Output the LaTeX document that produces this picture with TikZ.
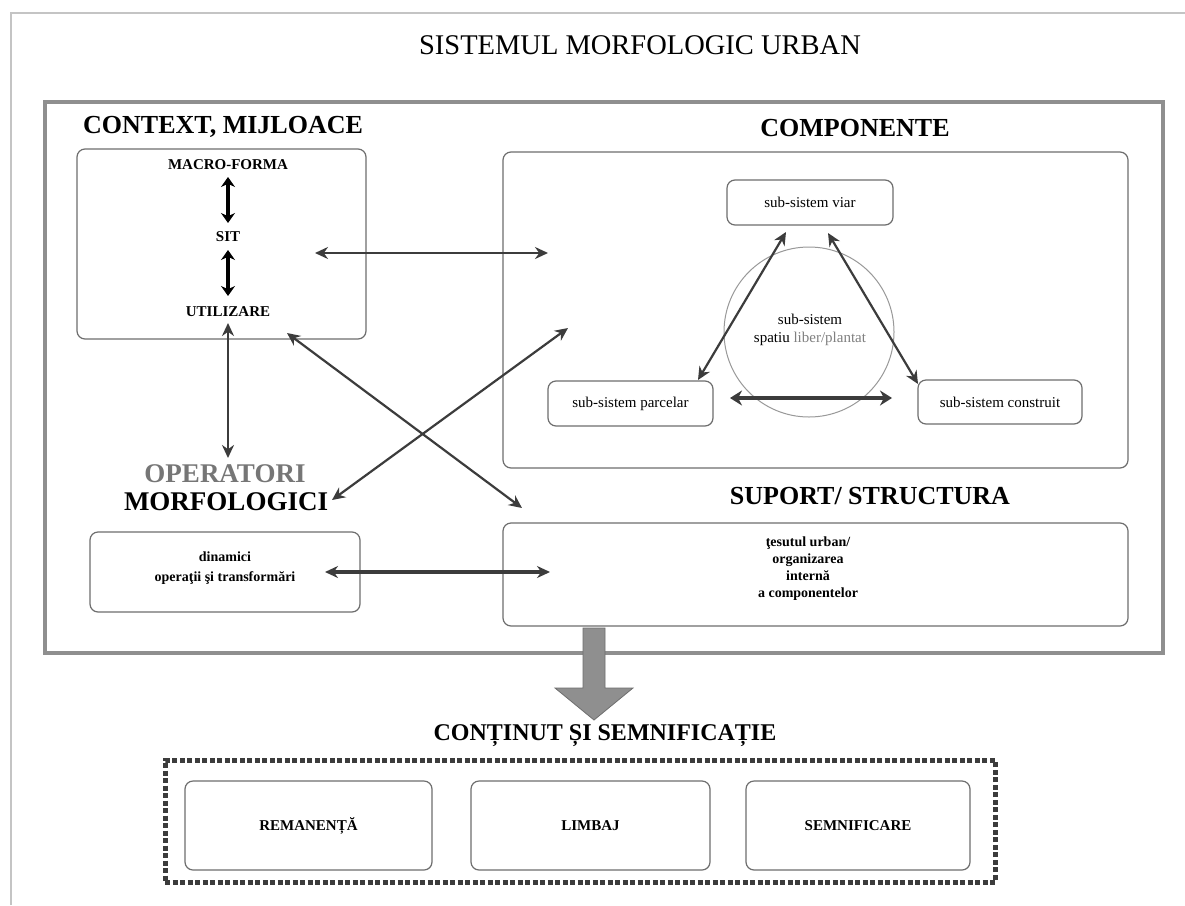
\documentclass[tikz,border=0pt]{standalone}
\usepackage{fontspec}
\setmainfont{Liberation Serif}
\usetikzlibrary{arrows.meta}
\definecolor{boxgray}{HTML}{6E6E6E}
\definecolor{arrgray}{HTML}{3C3C3C}
\definecolor{framegray}{HTML}{8F8F8F}
\definecolor{thingray}{HTML}{C4C4C4}
\definecolor{optgray}{HTML}{767676}
\tikzset{
  box/.style={draw=boxgray, line width=1.2pt, rounded corners=8pt, inner sep=0pt},
  arr/.style={draw=arrgray, line width=2.2pt, {Stealth[length=13pt,width=12pt]}-{Stealth[length=13pt,width=12pt]}},
  shortarr/.style={draw=black, line width=3.5pt, {Stealth[length=10pt,width=14pt]}-{Stealth[length=10pt,width=14pt]}},
  fatarr/.style={draw=arrgray, line width=4.5pt, {Stealth[length=12pt,width=15pt]}-{Stealth[length=12pt,width=15pt]}},
  heading/.style={font=\fontsize{26}{30}\selectfont\bfseries, inner sep=0pt},
  small/.style={font=\fontsize{15}{17}\selectfont\bfseries, inner sep=0pt},
  sub/.style={font=\fontsize{15}{18}\selectfont, inner sep=0pt}
}
\begin{document}
\begin{tikzpicture}[x=1pt,y=-1pt]
\useasboundingbox[fill=white] (0,0) rectangle (1185,905);
% outer thin frame
\draw[thingray, line width=1.5pt] (11,905) -- (11,13) -- (1185,13);
% title
\node[font=\fontsize{28.5}{32}\selectfont, inner sep=0pt] (title) at (640,45) {SISTEMUL MORFOLOGIC URBAN};
% main frame
\draw[framegray, line width=4pt] (45,102) rectangle (1163,653);

% CONTEXT, MIJLOACE
\node[heading, anchor=west] (ctxlab) at (83,127) {CONTEXT, MIJLOACE};
\node[box, minimum width=289pt, minimum height=190pt] (ctxbox) at (221.5,244) {};
\node[small] (macro) at (228,165) {MACRO-FORMA};
\node[small] (sit) at (228,237) {SIT};
\node[small] (util) at (228,312) {UTILIZARE};
\coordinate (m1) at (228,177);
\coordinate (m2) at (228,223);
\coordinate (s1) at (228,250);
\coordinate (s2) at (228,296);
\draw[shortarr] (m1) -- (m2);
\draw[shortarr] (s1) -- (s2);

% COMPONENTE
\node[heading] (complab) at (855,128) {COMPONENTE};
\node[box, minimum width=625pt, minimum height=316pt] (compbox) at (815.5,310) {};
\node[box, minimum width=166pt, minimum height=45pt, sub] (viar) at (810,202.5) {sub-sistem viar};
\node[draw=boxgray!70, line width=1pt, circle, minimum size=170pt, inner sep=0pt] (circ) at (809,332) {};
\node[sub, align=center] (circtxt) at (810,330) {sub-sistem\\spatiu {\color{gray}liber/plantat}};
\node[box, minimum width=165pt, minimum height=45pt, sub] (parc) at (630.5,403.5) {sub-sistem parcelar};
\node[box, minimum width=164pt, minimum height=44pt, sub] (cons) at (1000,402) {sub-sistem construit};
\coordinate (v1) at (786,232);
\coordinate (p1) at (698,380);
\coordinate (v2) at (828,233);
\coordinate (c1) at (918,384);
\coordinate (p2) at (730,398);
\coordinate (c2) at (892,398);
\draw[arr] (v1) -- (p1);
\draw[arr] (v2) -- (c1);
\draw[fatarr] (p2) -- (c2);

% context <-> componente
\coordinate (h1) at (315,253);
\coordinate (h2) at (548,253);
\draw[arr] (h1) -- (h2);

% OPERATORI MORFOLOGICI
\node[font=\fontsize{27}{30}\selectfont\bfseries, text=optgray, inner sep=0pt] (oplab) at (225,474) {OPERATORI};
\node[font=\fontsize{27}{30}\selectfont\bfseries, inner sep=0pt] (morlab) at (226,502) {MORFOLOGICI};
\coordinate (u1) at (228,323);
\coordinate (o1) at (228,458);
\draw[arr] (u1) -- (o1);
\node[box, minimum width=270pt, minimum height=80pt] (dinbox) at (225,572) {};
\node[small, align=center, font=\fontsize{14}{20}\selectfont\bfseries] (dintxt) at (225,568) {dinamici\\operaţii şi transformări};

% SUPORT / STRUCTURA
\node[heading] (suplab) at (870,496) {SUPORT/ STRUCTURA};
\node[box, minimum width=625pt, minimum height=103pt] (supbox) at (815.5,574.5) {};
\node[align=center, font=\fontsize{14}{17}\selectfont\bfseries, inner sep=0pt] (suptxt) at (808,569) {ţesutul urban/\\organizarea\\internă\\a componentelor};

% diagonals
\coordinate (d1a) at (287,333);
\coordinate (d1b) at (522,508);
\coordinate (d2a) at (332,500);
\coordinate (d2b) at (568,328);
\draw[arr] (d1a) -- (d1b);
\draw[arr] (d2a) -- (d2b);
% dinamici <-> suport
\coordinate (k1) at (325,572);
\coordinate (k2) at (550,572);
\draw[arr, line width=3.2pt] (k1) -- (k2);

% big arrow down
\fill[framegray, draw=boxgray, line width=0.8pt] (583,628) -- (605,628) -- (605,688) -- (633,688) -- (594,720) -- (555,688) -- (583,688) -- cycle;

% CONTINUT SI SEMNIFICATIE
\node[font=\fontsize{24}{28}\selectfont\bfseries, inner sep=0pt] (contlab) at (605,736) {CONȚINUT ȘI SEMNIFICAȚIE};
\node[draw=arrgray, line width=5pt, dash pattern=on 5pt off 2.5pt, minimum width=830pt, minimum height=122pt, inner sep=0pt] (dotbox) at (580,821) {};
\node[box, minimum width=247pt, minimum height=89pt, small] (b1) at (308.5,825.5) {REMANENȚĂ};
\node[box, minimum width=239pt, minimum height=89pt, small] (b2) at (590.5,825.5) {LIMBAJ};
\node[box, minimum width=224pt, minimum height=89pt, small] (b3) at (858,825.5) {SEMNIFICARE};
\end{tikzpicture}
\end{document}
